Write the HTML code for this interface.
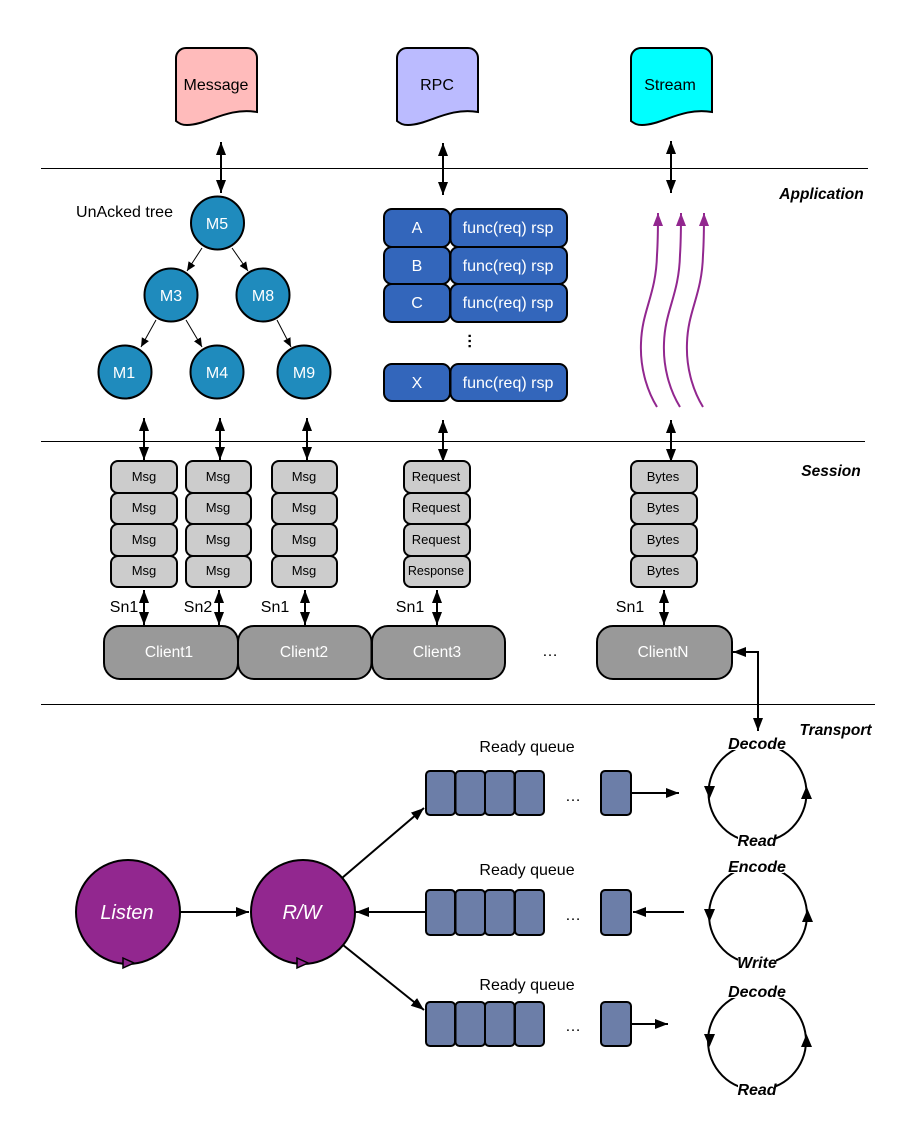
<!DOCTYPE html>
<html><head><meta charset="utf-8"><style>
html,body{margin:0;padding:0;background:#fff}
svg{display:block}
text{font-family:"Liberation Sans",sans-serif;text-anchor:middle}
.w{fill:#fff}
.i{font-style:italic}
.b{font-weight:bold;font-style:italic;font-size:16px}
.t{font-weight:bold;font-style:italic;font-size:15.500px}
.l{stroke:#000;stroke-width:2;fill:none}
.a{marker-end:url(#m)}
.d{marker-start:url(#m);marker-end:url(#m)}
.s{marker-end:url(#ms)}
.c{stroke:#000;stroke-width:2;fill:#1f8bbd}
.r{stroke:#000;stroke-width:2;fill:#3366bb}
.g{stroke:#000;stroke-width:2;fill:#cccccc}
.k{stroke:#000;stroke-width:2;fill:#999999}
.q{stroke:#000;stroke-width:2;fill:#6c7ea8}
.p{stroke:#000;stroke-width:2;fill:#92278f}
.h{stroke:#92278f;stroke-width:2;fill:none;marker-end:url(#mp)}
</style></head><body>
<svg width="909" height="1134" viewBox="0 0 909 1134" xmlns="http://www.w3.org/2000/svg">
<defs>
<marker id="m" markerUnits="userSpaceOnUse" markerWidth="14" markerHeight="12" refX="13" refY="5" orient="auto-start-reverse"><path d="M0 0L13 5L0 10Z" fill="#000"/></marker>
<marker id="ms" markerUnits="userSpaceOnUse" markerWidth="10" markerHeight="10" refX="9" refY="4" orient="auto"><path d="M0 0L9 4L0 8Z" fill="#000"/></marker>
<marker id="mp" markerUnits="userSpaceOnUse" markerWidth="14" markerHeight="12" refX="13" refY="5" orient="auto"><path d="M0 0L13 5L0 10Z" fill="#92278f"/></marker>
</defs>

<path d="M41 168.500H868M41 441.500H865M41 704.500H875" stroke="#000" stroke-width="1" fill="none"/>

<path d="M176 58a10 10 0 0 1 10-10h61a10 10 0 0 1 10 10v54c-30-5-50 13-70 13c-5 0-7-1-11-4Z" fill="#ffbbbb" stroke="#000" stroke-width="2"/>
<path d="M397 58a10 10 0 0 1 10-10h61a10 10 0 0 1 10 10v54c-30-5-50 13-70 13c-5 0-7-1-11-4Z" fill="#bbbbff" stroke="#000" stroke-width="2"/>
<path d="M631 58a10 10 0 0 1 10-10h61a10 10 0 0 1 10 10v54c-30-5-50 13-70 13c-5 0-7-1-11-4Z" fill="#00ffff" stroke="#000" stroke-width="2"/>
<text x="216" y="90" font-size="16">Message</text>
<text x="437" y="90" font-size="16">RPC</text>
<text x="670" y="90" font-size="16">Stream</text>

<path class="l d" d="M221 142V193"/>
<path class="l d" d="M443 143V195"/>
<path class="l d" d="M671 141V193"/>

<text x="821.500" y="199" class="t">Application</text>
<text x="831" y="476" class="t">Session</text>
<text x="835.500" y="735" class="t">Transport</text>
<text x="124.500" y="217" font-size="16">UnAcked tree</text>

<path class="l s" style="stroke-width:1" d="M202 248L187 271"/>
<path class="l s" style="stroke-width:1" d="M232 248L248 271"/>
<path class="l s" style="stroke-width:1" d="M156 320L141 347"/>
<path class="l s" style="stroke-width:1" d="M186 320L202 347"/>
<path class="l s" style="stroke-width:1" d="M277 320L291 347"/>
<circle class="c" cx="217.500" cy="223" r="26.500"/>
<circle class="c" cx="171" cy="295" r="26.500"/>
<circle class="c" cx="263" cy="295" r="26.500"/>
<circle class="c" cx="125" cy="372" r="26.500"/>
<circle class="c" cx="217" cy="372" r="26.500"/>
<circle class="c" cx="304" cy="372" r="26.500"/>
<text class="w" x="217" y="229" font-size="16">M5</text>
<text class="w" x="171" y="301" font-size="16">M3</text>
<text class="w" x="263" y="301" font-size="16">M8</text>
<text class="w" x="124" y="378" font-size="16">M1</text>
<text class="w" x="217" y="378" font-size="16">M4</text>
<text class="w" x="304" y="378" font-size="16">M9</text>

<rect class="r" x="384" y="209" width="66" height="38" rx="8"/>
<rect class="r" x="450.500" y="209" width="116.500" height="38" rx="8"/>
<rect class="r" x="384" y="247" width="66" height="37" rx="8"/>
<rect class="r" x="450.500" y="247" width="116.500" height="37" rx="8"/>
<rect class="r" x="384" y="284" width="66" height="38" rx="8"/>
<rect class="r" x="450.500" y="284" width="116.500" height="38" rx="8"/>
<rect class="r" x="384" y="364" width="66" height="37" rx="8"/>
<rect class="r" x="450.500" y="364" width="116.500" height="37" rx="8"/>
<text class="w" x="417" y="233" font-size="16">A</text>
<text class="w" x="417" y="271" font-size="16">B</text>
<text class="w" x="417" y="308" font-size="16">C</text>
<text class="w" x="417" y="388" font-size="16">X</text>
<text class="w" x="508" y="233" font-size="16">func(req) rsp</text>
<text class="w" x="508" y="271" font-size="16">func(req) rsp</text>
<text class="w" x="508" y="308" font-size="16">func(req) rsp</text>
<text class="w" x="508" y="388" font-size="16">func(req) rsp</text>
<text x="473" y="341" font-size="16" style="writing-mode:vertical-rl;font-weight:bold">…</text>

<path class="h" d="M657 407C646 389 640 366 641 343C642 310 656 295 657 255C658 240 658 235 658 213"/>
<path class="h" d="M680 407C669 389 663 366 664 343C665 310 679 295 680 255C681 240 681 235 681 213"/>
<path class="h" d="M703 407C692 389 686 366 687 343C688 310 702 295 703 255C704 240 704 235 704 213"/>

<path class="l d" d="M144 418V460"/>
<path class="l d" d="M220 418V460"/>
<path class="l d" d="M307 418V460"/>
<path class="l d" d="M443 420V462"/>
<path class="l d" d="M671 420V462"/>

<g id="st">
<rect class="g" x="111" y="461" width="66" height="32" rx="7"/><rect class="g" x="111" y="493" width="66" height="31" rx="7"/><rect class="g" x="111" y="524" width="66" height="32" rx="7"/><rect class="g" x="111" y="556" width="66" height="31" rx="7"/>
<rect class="g" x="186" y="461" width="65" height="32" rx="7"/><rect class="g" x="186" y="493" width="65" height="31" rx="7"/><rect class="g" x="186" y="524" width="65" height="32" rx="7"/><rect class="g" x="186" y="556" width="65" height="31" rx="7"/>
<rect class="g" x="272" y="461" width="65" height="32" rx="7"/><rect class="g" x="272" y="493" width="65" height="31" rx="7"/><rect class="g" x="272" y="524" width="65" height="32" rx="7"/><rect class="g" x="272" y="556" width="65" height="31" rx="7"/>
<rect class="g" x="404" y="461" width="66" height="32" rx="7"/><rect class="g" x="404" y="493" width="66" height="31" rx="7"/><rect class="g" x="404" y="524" width="66" height="32" rx="7"/><rect class="g" x="404" y="556" width="66" height="31" rx="7"/>
<rect class="g" x="631" y="461" width="66" height="32" rx="7"/><rect class="g" x="631" y="493" width="66" height="31" rx="7"/><rect class="g" x="631" y="524" width="66" height="32" rx="7"/><rect class="g" x="631" y="556" width="66" height="31" rx="7"/>
</g>
<g font-size="13">
<text x="144" y="481">Msg</text><text x="144" y="512">Msg</text><text x="144" y="544">Msg</text><text x="144" y="575">Msg</text>
<text x="218" y="481">Msg</text><text x="218" y="512">Msg</text><text x="218" y="544">Msg</text><text x="218" y="575">Msg</text>
<text x="304" y="481">Msg</text><text x="304" y="512">Msg</text><text x="304" y="544">Msg</text><text x="304" y="575">Msg</text>
<text x="436" y="481">Request</text><text x="436" y="512">Request</text><text x="436" y="544">Request</text><text x="436" y="575" font-size="12.500">Response</text>
<text x="663" y="481">Bytes</text><text x="663" y="512">Bytes</text><text x="663" y="544">Bytes</text><text x="663" y="575">Bytes</text>
</g>

<path class="l d" d="M144 590V625"/>
<path class="l d" d="M219 590V625"/>
<path class="l d" d="M305 590V625"/>
<path class="l d" d="M437 590V625"/>
<path class="l d" d="M664 590V625"/>
<g font-size="16"><text x="124" y="612">Sn1</text><text x="198" y="612">Sn2</text><text x="275" y="612">Sn1</text><text x="410" y="612">Sn1</text><text x="630" y="612">Sn1</text></g>

<rect class="k" x="104" y="626" width="134" height="53" rx="16"/>
<rect class="k" x="238" y="626" width="133.500" height="53" rx="16"/>
<rect class="k" x="372" y="626" width="133" height="53" rx="16"/>
<rect class="k" x="597" y="626" width="135" height="53" rx="16"/>
<text class="w" x="169" y="657" font-size="15.500">Client1</text>
<text class="w" x="304" y="657" font-size="15.500">Client2</text>
<text class="w" x="437" y="657" font-size="15.500">Client3</text>
<text class="w" x="663" y="657" font-size="15.500">ClientN</text>
<text x="550" y="656" font-size="16">…</text>

<path class="l d" d="M733 652H758V731"/>

<circle class="p" cx="128" cy="912" r="52"/>
<circle class="p" cx="303" cy="912" r="52"/>
<path d="M123 958L134 963L123 968Z" fill="#92278f" stroke="#000" stroke-width="1.500"/>
<path d="M297 958L308 963L297 968Z" fill="#92278f" stroke="#000" stroke-width="1.500"/>
<text class="w i" x="127" y="919" font-size="20">Listen</text>
<text class="w i" x="302" y="919" font-size="20">R/W</text>

<path class="l a" d="M180 912H249"/>
<path class="l a" d="M426 912H356"/>
<path class="l a" d="M342 878L424 808"/>
<path class="l a" d="M343 945L424 1010"/>
<path class="l a" d="M631 793H679"/>
<path class="l a" d="M684 912H633"/>
<path class="l a" d="M631 1024H668"/>

<text x="527" y="752" font-size="16">Ready queue</text>
<text x="527" y="875" font-size="16">Ready queue</text>
<text x="527" y="990" font-size="16">Ready queue</text>

<rect class="q" x="426" y="771" width="29" height="44" rx="4"/><rect class="q" x="455.500" y="771" width="29.500" height="44" rx="4"/><rect class="q" x="485" y="771" width="29.500" height="44" rx="4"/><rect class="q" x="515" y="771" width="29" height="44" rx="4"/><rect class="q" x="601" y="771" width="30" height="44" rx="4"/>
<rect class="q" x="426" y="890" width="29" height="45" rx="4"/><rect class="q" x="455.500" y="890" width="29.500" height="45" rx="4"/><rect class="q" x="485" y="890" width="29.500" height="45" rx="4"/><rect class="q" x="515" y="890" width="29" height="45" rx="4"/><rect class="q" x="601" y="890" width="30" height="45" rx="4"/>
<rect class="q" x="426" y="1002" width="29" height="44" rx="4"/><rect class="q" x="455.500" y="1002" width="29.500" height="44" rx="4"/><rect class="q" x="485" y="1002" width="29.500" height="44" rx="4"/><rect class="q" x="515" y="1002" width="29" height="44" rx="4"/><rect class="q" x="601" y="1002" width="30" height="44" rx="4"/>
<text x="573" y="801" font-size="16">…</text>
<text x="573" y="920" font-size="16">…</text>
<text x="573" y="1031" font-size="16">…</text>

<circle cx="757.500" cy="793" r="49" class="l"/>
<circle cx="758" cy="915" r="49" class="l"/>
<circle cx="757" cy="1041" r="49" class="l"/>
<path d="M704 786H715L709.500 799Z M801 799H812L806.500 786Z" fill="#000"/>
<path d="M704 909H715L709.500 922Z M802 922H813L807.500 909Z" fill="#000"/>
<path d="M704 1034H715L709.500 1047Z M801 1047H812L806.500 1034Z" fill="#000"/>
<rect x="730" y="736" width="54" height="14" fill="#fff"/>
<rect x="738" y="834" width="38" height="14" fill="#fff"/>
<rect x="730" y="858" width="54" height="15" fill="#fff"/>
<rect x="738" y="956" width="38" height="14" fill="#fff"/>
<rect x="730" y="984" width="54" height="14" fill="#fff"/>
<rect x="738" y="1083" width="38" height="14" fill="#fff"/>
<text x="757" y="749" class="b">Decode</text>
<text x="757" y="846" class="b">Read</text>
<text x="757" y="872" class="b">Encode</text>
<text x="757" y="968" class="b">Write</text>
<text x="757" y="997" class="b">Decode</text>
<text x="757" y="1095" class="b">Read</text>
</svg>
</body></html>
